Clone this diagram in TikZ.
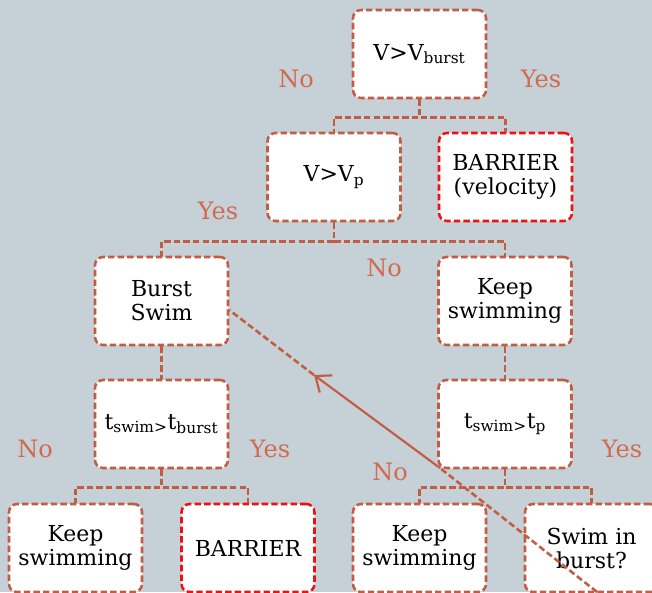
\documentclass[tikz,border=0pt]{standalone}
\usepackage{fontspec}
\setmainfont{DejaVu Serif}
\usepackage{tikz}
\usetikzlibrary{arrows.meta, positioning, calc}
\usepackage{xcolor}
\definecolor{bgcol}{HTML}{C5D1D7}
\definecolor{linecol}{HTML}{C25C42}
\definecolor{labcol}{HTML}{D26A50}
\definecolor{barcol}{HTML}{EE1111}
\tikzstyle{decision} = [rectangle, rounded corners=6pt, minimum width=99.75pt, minimum height=66pt,
                        align=center, draw=linecol, fill=white, line width=1.9pt,
                        dash pattern=on 4.8pt off 2.4pt, font=\fontsize{16.5pt}{18pt}\selectfont]
\tikzstyle{barrier}  = [decision, draw=barcol]
\tikzstyle{conn}     = [draw=linecol, line width=1.9pt, dash pattern=on 4.8pt off 2.4pt]
\tikzstyle{answer}   = [text=labcol, font=\fontsize{18pt}{20pt}\selectfont]

\begin{document}
\begin{tikzpicture}[x=0.75pt, y=-0.75pt]

  \useasboundingbox (0,0) rectangle (652,592);
  \fill[bgcol] (0,0) rectangle (652,592);
  \clip (0,0) rectangle (652,592);

  % Velocity checks
  \node (vburst) [decision] at (419.5,54) {V>V\textsubscript{burst}};
  \node (vp)     [decision] at (334,177)  {V>V\textsubscript{p}};
  \node (barvel) [barrier]  at (505.5,177) {BARRIER\\(velocity)};

  % Swimming modes
  \node (burst)  [decision] at (161.5,301) {Burst\\Swim};
  \node (keep)   [decision] at (505,301)   {Keep\\swimming};

  % Time checks
  \node (tburst) [decision] at (161.5,424) {t\textsubscript{swim>}t\textsubscript{burst}};
  \node (tp)     [decision] at (505,424)   {t\textsubscript{swim>}t\textsubscript{p}};

  % Outcomes
  \node (keepA)  [decision] at (75.5,548)  {Keep\\swimming};
  \node (barA)   [barrier]  at (248,548)   {BARRIER};
  \node (keepB)  [decision] at (419.5,548) {Keep\\swimming};
  \node (again)  [decision] at (591.5,548) {Swim in\\burst?};

  % Tree connectors
  \draw[conn] (vburst.south) -- ++(0,18) -| (vp.north);
  \draw[conn] (vburst.south) -- ++(0,18) -| (barvel.north);
  \draw[conn] (vp.south) -- ++(0,19) -| (burst.north);
  \draw[conn] (vp.south) -- ++(0,19) -| (keep.north);
  \draw[conn] (burst) -- (tburst);
  \draw[conn] (keep) -- (tp);
  \draw[conn] (tburst.south) -- ++(0,18) -| (keepA.north);
  \draw[conn] (tburst.south) -- ++(0,18) -| (barA.north);
  \draw[conn] (tp.south) -- ++(0,18) -| (keepB.north);
  \draw[conn] (tp.south) -- ++(0,18) -| (again.north);

  % Answers
  \node[answer] (noA)  at (296,79)  {No};
  \node[answer] (yesA) at (541,79)  {Yes};
  \node[answer] (yesB) at (218,211) {Yes};
  \node[answer] (noB)  at (384,268) {No};
  \node[answer] (noC)  at (35,449)  {No};
  \node[answer] (yesC) at (270,449) {Yes};
  \node[answer] (noD)  at (390,472) {No};
  \node[answer] (yesD) at (622,449) {Yes};

  % Back to burst swim
  \coordinate (loopEnd) at (597,592);
  \coordinate (loopMid) at (440,468);
  \coordinate (loopTip) at (314,375);
  \coordinate (burstIn) at ($(burst.east)+(0,9)$);
  \draw[conn] (loopEnd) -- (loopMid);
  \draw[draw=linecol, line width=1.6pt, -{Straight Barb[length=10pt, width=16pt, line width=1.6pt]}]
    (loopMid) -- (loopTip);
  \draw[conn] (loopTip) -- (burstIn);

\end{tikzpicture}
\end{document}
